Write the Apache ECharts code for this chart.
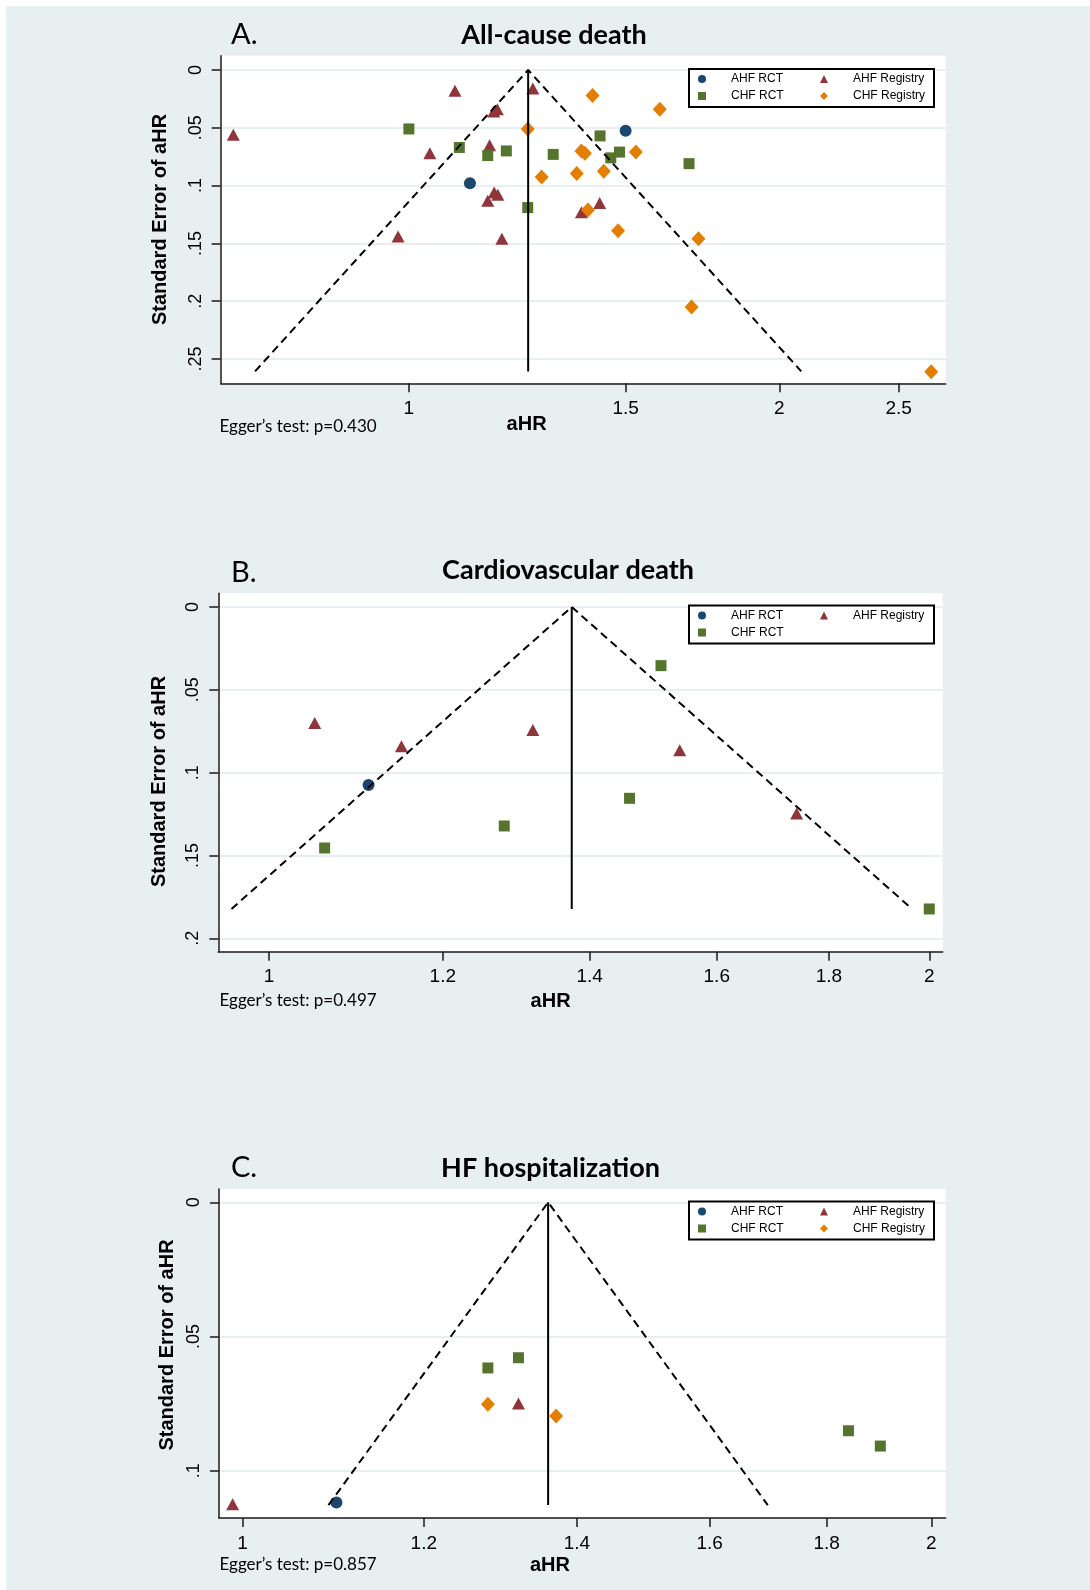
<!DOCTYPE html>
<html>
<head>
<meta charset="utf-8">
<script src="https://cdn.jsdelivr.net/npm/echarts@6/dist/echarts.min.js"></script>
<style>
  html, body { margin: 0; padding: 0; background: #fff; }
  #main {
    width: 1090px; height: 1590px;
    background: linear-gradient(#e8eff1, #e8eff1) no-repeat 6px 6px / 1084px 1584px;
  }
</style>
</head>
<body>
<div id="main"></div>
<script>
// points are [aHR, standard error]
// A. All-cause death
const aAhfRct = [[1.121, 0.098], [1.50, 0.0525]];
const aAhfReg = [[0.720, 0.056], [1.090, 0.018], [1.261, 0.016], [1.172, 0.036], [1.180, 0.034],
  [1.040, 0.072], [1.163, 0.065], [1.173, 0.106], [1.181, 0.108], [1.159, 0.113],
  [0.980, 0.144], [1.190, 0.146], [1.381, 0.123], [1.429, 0.115]];
const aChfRct = [[1.00, 0.051], [1.099, 0.067], [1.159, 0.074], [1.20, 0.070], [1.310, 0.073],
  [1.249, 0.119], [1.430, 0.057], [1.483, 0.071], [1.459, 0.076], [1.689, 0.081]];
const aChfReg = [[1.410, 0.022], [1.599, 0.034], [1.249, 0.051], [1.381, 0.070], [1.390, 0.072],
  [1.529, 0.071], [1.282, 0.0925], [1.369, 0.0896], [1.440, 0.0876], [1.398, 0.121],
  [1.479, 0.139], [1.719, 0.146], [1.697, 0.205], [2.657, 0.261]];
const aPooled = 1.25, aSeMax = 0.2607;
const aXTicks = [1, 1.5, 2, 2.5];
const aYTicks = [0, 0.05, 0.1, 0.15, 0.2, 0.25];

// B. Cardiovascular death
const bAhfRct = [[1.110, 0.1074]];
const bAhfReg = [[1.049, 0.070], [1.149, 0.0841], [1.319, 0.0742], [1.539, 0.0865], [1.740, 0.1247]];
const bChfRct = [[1.509, 0.0354], [1.460, 0.1155], [1.280, 0.1322], [1.060, 0.1455], [2.00, 0.1823]];
const bPooled = 1.374, bSeMax = 0.1823;
const bXTicks = [1, 1.2, 1.4, 1.6, 1.8, 2];
const bYTicks = [0, 0.05, 0.1, 0.15, 0.2];

// C. HF hospitalization
const cAhfRct = [[1.099, 0.1118]];
const cAhfReg = [[1.320, 0.0749], [0.990, 0.1125]];
const cChfRct = [[1.320, 0.0579], [1.280, 0.0617], [1.840, 0.0851], [1.900, 0.0908]];
const cChfReg = [[1.280, 0.0752], [1.371, 0.0796]];
const cPooled = 1.360, cSeMax = 0.1128;
const cXTicks = [1, 1.2, 1.4, 1.6, 1.8, 2];
const cYTicks = [0, 0.05, 0.1];

const eggerP = ['0.430', '0.497', '0.857'];

const groupStyle = {
  'AHF RCT': { color: '#1a476f', symbol: 'circle', size: 12 },
  'AHF Registry': { color: '#90353b', symbol: 'triangle', size: [13, 12] },
  'CHF RCT': { color: '#55752f', symbol: 'rect', size: [11, 11] },
  'CHF Registry': { color: '#e37e00', symbol: 'diamond', size: [14, 15] }
};

const panels = [
  { letter: 'A.', title: 'All-cause death', titleX: 554, titleY: 35, letterY: 35,
    grid: { left: 220.6, top: 55.7, width: 725.1, height: 327.6 },
    xMin: 0.7031, xMax: 2.730, yMin: -0.01237, yMax: 0.2710,
    xTicks: aXTicks, yTicks: aYTicks, nameGap: 50, namePad: [0, 0, 0, 0],
    groups: { 'AHF RCT': aAhfRct, 'AHF Registry': aAhfReg, 'CHF RCT': aChfRct, 'CHF Registry': aChfReg },
    pooled: aPooled, seMax: aSeMax, legendTop: 69,
    eggerY: 427, ahrX: 526.6, ahrY: 424 },
  { letter: 'B.', title: 'Cardiovascular death', titleX: 568, titleY: 570, letterY: 573,
    grid: { left: 218.3, top: 593.3, width: 724.4, height: 358.4 },
    xMin: 0.948, xMax: 2.0284, yMin: -0.00827, yMax: 0.2081,
    xTicks: bXTicks, yTicks: bYTicks, nameGap: 49, namePad: [0, 18, 0, 0],
    groups: { 'AHF RCT': bAhfRct, 'AHF Registry': bAhfReg, 'CHF RCT': bChfRct },
    pooled: bPooled, seMax: bSeMax, legendTop: 605.5,
    eggerY: 1001, ahrX: 550.6, ahrY: 1001.7 },
  { letter: 'C.', title: 'HF hospitalization', titleX: 550.5, titleY: 1168, letterY: 1168,
    grid: { left: 219, top: 1189, width: 726.7, height: 329 },
    xMin: 0.9765, xMax: 2.0292, yMin: -0.00496, yMax: 0.1176,
    xTicks: cXTicks, yTicks: cYTicks, nameGap: 39, namePad: [0, 0, 0, 17],
    groups: { 'AHF RCT': cAhfRct, 'AHF Registry': cAhfReg, 'CHF RCT': cChfRct, 'CHF Registry': cChfReg },
    pooled: cPooled, seMax: cSeMax, legendTop: 1201.5,
    eggerY: 1565, ahrX: 550, ahrY: 1565 }
];

const axisColor = '#1a1a1a';
const seLabel = v => (v === 0 ? '0' : String(+v.toFixed(2)).replace(/^0\./, '.'));

let option = {
  animation: false,
  grid: [], xAxis: [], yAxis: [], series: [], legend: [], graphic: []
};

panels.forEach((p, i) => {
  option.grid.push(Object.assign({
    show: true, backgroundColor: '#fff', borderWidth: 0, containLabel: false, outerBoundsMode: 'none'
  }, p.grid));

  option.xAxis.push({
    gridIndex: i, type: 'log', logBase: 10, min: p.xMin, max: p.xMax,
    axisLine: { show: true, onZero: false, lineStyle: { color: axisColor, width: 1.5 } },
    axisTick: { show: true, length: 9, customValues: p.xTicks, lineStyle: { color: axisColor, width: 1.5 } },
    axisLabel: { customValues: p.xTicks, fontSize: 19, color: '#000', margin: 16,
      fontFamily: 'Liberation Sans', formatter: v => String(+(+v).toFixed(2)) },
    splitLine: { show: false }, minorTick: { show: false }
  });

  option.yAxis.push({
    gridIndex: i, type: 'value', inverse: true, min: p.yMin, max: p.yMax,
    name: 'Standard Error of aHR', nameLocation: 'middle', nameGap: p.nameGap,
    nameTextStyle: { fontSize: 20, fontWeight: 'bold', color: '#000', fontFamily: 'Liberation Sans', padding: p.namePad },
    axisLine: { show: true, onZero: false, lineStyle: { color: axisColor, width: 1.5 } },
    axisTick: { show: true, length: 9, customValues: p.yTicks, lineStyle: { color: axisColor, width: 1.5 } },
    axisLabel: { customValues: p.yTicks, rotate: 90, fontSize: 18, color: '#000', margin: 16,
      fontFamily: 'Liberation Sans', formatter: v => seLabel(+v) },
    splitLine: { show: true, lineStyle: { color: '#e8eff1', width: 2 } }
  });

  Object.keys(p.groups).forEach(name => {
    const g = groupStyle[name];
    option.series.push({
      name: name, type: 'scatter', xAxisIndex: i, yAxisIndex: i,
      symbol: g.symbol, symbolSize: g.size, itemStyle: { color: g.color, opacity: 1 },
      data: p.groups[name], z: 2
    });
  });

  // funnel: pooled estimate +/- 1.96 SE, straight on the log axis
  const lo = Math.exp(Math.log(p.pooled) - 1.96 * p.seMax);
  const hi = Math.exp(Math.log(p.pooled) + 1.96 * p.seMax);
  option.series.push({
    name: 'funnel' + i, type: 'line', xAxisIndex: i, yAxisIndex: i, symbol: 'none', silent: true, z: 3,
    lineStyle: { color: '#000', width: 2, type: [8, 5] },
    data: [[lo, p.seMax], [p.pooled, 0], [hi, p.seMax]]
  });
  option.series.push({
    name: 'pooled' + i, type: 'line', xAxisIndex: i, yAxisIndex: i, symbol: 'none', silent: true, z: 3,
    lineStyle: { color: '#000', width: 2 },
    data: [[p.pooled, 0], [p.pooled, p.seMax]]
  });

  const names = Object.keys(p.groups);
  const ordered = ['AHF RCT', 'AHF Registry', 'CHF RCT', 'CHF Registry'].filter(n => names.indexOf(n) >= 0);
  option.legend.push({
    left: 689, top: p.legendTop, orient: 'horizontal', width: 235,
    itemWidth: 8, itemHeight: 8, itemGap: 3, padding: [3, 7, 4, 9],
    borderColor: '#000', borderWidth: 2, backgroundColor: '#fff', selectedMode: false,
    textStyle: { fontSize: 12, fontFamily: 'Liberation Sans', color: '#000', lineHeight: 14, padding: [0, 0, 0, 20] },
    data: ordered.map(n => ({ name: n, textStyle: { width: n.indexOf('RCT') > 0 ? 86 : 74 } }))
  });

  option.graphic.push(
    { type: 'text', style: { text: p.letter, x: 231, y: p.letterY, font: '29px Lato', fill: '#000', verticalAlign: 'middle' } },
    { type: 'text', style: { text: p.title, x: p.titleX, y: p.titleY, font: 'bold 27px Lato', fill: '#000', align: 'center', verticalAlign: 'middle' } },
    { type: 'text', style: { text: 'Egger\u2019s test: p=' + eggerP[i], x: 219.5, y: p.eggerY, font: '17px Lato', fill: '#000', verticalAlign: 'middle' } },
    { type: 'text', style: { text: 'aHR', x: p.ahrX, y: p.ahrY, font: 'bold 20px "Liberation Sans"', fill: '#000', align: 'center', verticalAlign: 'middle' } }
  );
});

let myChart = echarts.init(document.getElementById('main'), null, { renderer: 'canvas' });
myChart.setOption(option);
</script>
</body>
</html>
